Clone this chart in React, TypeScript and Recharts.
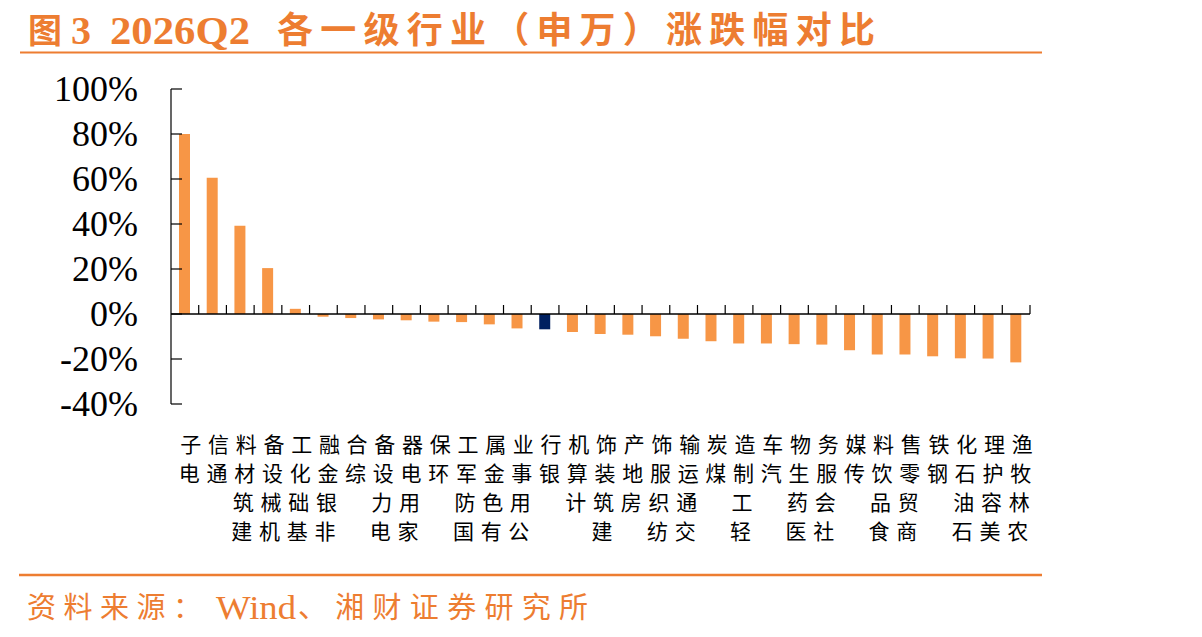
import React from 'react';
import { BarChart, Bar, XAxis, YAxis, Cell, ReferenceLine } from 'recharts';

// 申万一级行业 2026Q2 涨跌幅（%）
const industries = [
  '电子', '通信', '建筑材料', '机械设备', '基础化工', '非银金融', '综合', '电力设备',
  '家用电器', '环保', '国防军工', '有色金属', '公用事业', '银行', '计算机', '建筑装饰',
  '房地产', '纺织服饰', '交通运输', '煤炭', '轻工制造', '汽车', '医药生物', '社会服务',
  '传媒', '食品饮料', '商贸零售', '钢铁', '石油石化', '美容护理', '农林牧渔',
];
const changes = [
  80.0, 60.6, 39.2, 20.4, 2.3, -1.2, -1.8, -2.4,
  -2.8, -3.4, -3.6, -4.6, -6.4, -6.8, -8.0, -8.9,
  -9.2, -9.9, -11.0, -12.1, -13.1, -13.1, -13.4, -13.6,
  -16.1, -18.0, -18.0, -18.8, -19.7, -19.8, -21.5,
];
const highlight = '银行';
const yTicks = [-40, -20, 0, 20, 40, 60, 80, 100];

const data = industries.map((name, i) => ({ name, value: changes[i] }));

const W = 1202;
const H = 637;
const PLOT_LEFT = 171;
const PLOT_RIGHT = 1030;
const PLOT_TOP = 89;
const PLOT_BOTTOM = 404;
const X_AXIS_H = 150;
const Y_MIN = -40;
const Y_MAX = 100;

const ORANGE = '#F79646';
const NAVY = '#002060';
const TITLE_ORANGE = '#ED7D31';

const SERIF = "'Liberation Serif', 'Noto Sans CJK SC', serif";
const CJK = "'Noto Sans CJK SC', sans-serif";

const band = (PLOT_RIGHT - PLOT_LEFT) / industries.length;
const zeroY = PLOT_TOP + ((Y_MAX - 0) / (Y_MAX - Y_MIN)) * (PLOT_BOTTOM - PLOT_TOP);

// vertical stacked label + the small tick mark on the zero line
const CategoryTick = ({ x, y, payload }: any) => {
  const chars = String(payload.value).split('').reverse();
  return (
    <g>
      <line x1={x + band / 2} x2={x + band / 2} y1={zeroY} y2={zeroY - 9} stroke="#000" strokeWidth={1.2} />
      {chars.map((c, i) => (
        <text
          key={i}
          x={x + 6 - i * 1.5}
          y={y + 39 + i * 29}
          textAnchor="middle"
          dominantBaseline="central"
          fontSize={21}
          fontFamily={CJK}
          fill="#000"
        >
          {c}
        </text>
      ))}
    </g>
  );
};

const ValueTick = ({ x, y, payload }: any) => (
  <g>
    <line x1={x} x2={x + 11} y1={y} y2={y} stroke="#000" strokeWidth={1.2} />
    <text
      x={x - 33}
      y={y}
      textAnchor="end"
      dominantBaseline="central"
      fontSize={36}
      fontFamily={SERIF}
      fill="#000"
    >
      {`${payload.value}%`}
    </text>
  </g>
);

const App: React.FC = () => {
  return (
    <div style={{ position: 'absolute', left: 0, top: 0, width: W, height: H, background: '#fff' }}>
      <svg width={W} height={H} style={{ position: 'absolute', left: 0, top: 0 }}>
        <g fill={TITLE_ORANGE} fontWeight="bold">
          <text x={28} y={43} fontSize={34} fontFamily={CJK}>图</text>
          <text x={71} y={44} fontSize={40} fontFamily={SERIF}>3</text>
          <text x={110} y={44} fontSize={40} fontFamily={SERIF} textLength={140} lengthAdjust="spacingAndGlyphs">2026Q2</text>
          <text x={277} y={43} fontSize={36} fontFamily={CJK} textLength={598} lengthAdjust="spacing">
            各一级行业（申万）涨跌幅对比
          </text>
        </g>
        <line x1={20} x2={1042} y1={52.5} y2={52.5} stroke={TITLE_ORANGE} strokeWidth={2} />
        <line x1={19} x2={1042} y1={575} y2={575} stroke={TITLE_ORANGE} strokeWidth={2.5} />
        <g fill={TITLE_ORANGE} fontSize={29}>
          <text x={27} y={618} fontFamily={CJK} textLength={175} lengthAdjust="spacing">资料来源：</text>
          <text x={216} y={619} fontSize={33} fontFamily={SERIF} textLength={80} lengthAdjust="spacingAndGlyphs">Wind</text>
          <text x={298} y={618} fontFamily={CJK} textLength={290} lengthAdjust="spacing">、湘财证券研究所</text>
        </g>
      </svg>
      <div style={{ position: 'absolute', left: 0, top: 0 }}>
        <BarChart
          width={W}
          height={H}
          data={data}
          margin={{ top: PLOT_TOP, right: W - PLOT_RIGHT, bottom: H - PLOT_BOTTOM - X_AXIS_H, left: 0 }}
        >
          <XAxis
            dataKey="name"
            interval={0}
            height={X_AXIS_H}
            axisLine={false}
            tickLine={false}
            tickSize={0}
            tickMargin={0}
            tick={<CategoryTick />}
          />
          <YAxis
            width={PLOT_LEFT}
            domain={[Y_MIN, Y_MAX]}
            ticks={yTicks}
            interval={0}
            axisLine={{ stroke: '#000', strokeWidth: 1.2 }}
            tickLine={false}
            tickSize={0}
            tickMargin={0}
            tick={<ValueTick />}
          />
          <ReferenceLine y={0} stroke="#000" strokeWidth={1.5} />
          <Bar dataKey="value" barSize={11} isAnimationActive={false}>
            {data.map((d) => (
              <Cell key={d.name} fill={d.name === highlight ? NAVY : ORANGE} />
            ))}
          </Bar>
        </BarChart>
      </div>
    </div>
  );
};

export default App;
